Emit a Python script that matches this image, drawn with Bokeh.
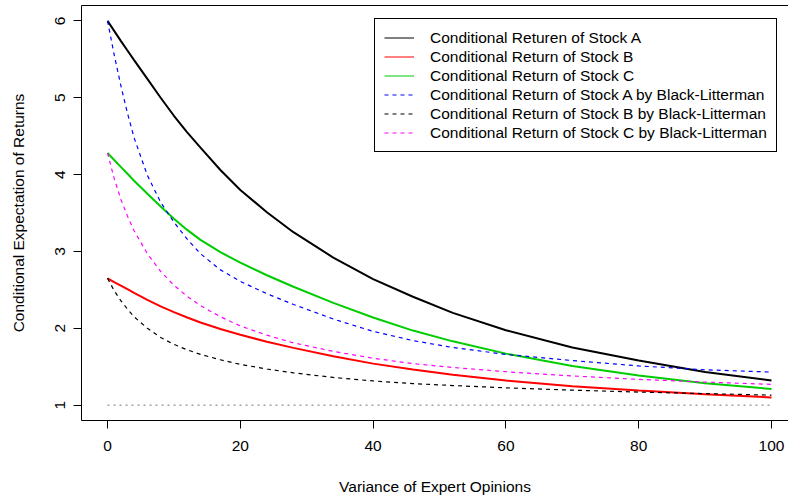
from bokeh.plotting import figure
from bokeh.models import Range1d, FixedTicker, LinearAxis, Legend, LegendItem
from bokeh.embed import file_html
from bokeh.resources import INLINE

# Variance of the expert opinions (x) and the conditional expected returns
variance = [0, 1, 2, 3, 4, 6, 8, 10, 12, 14, 17, 20, 24, 28, 34, 40, 46, 52,
            60, 70, 80, 90, 100]

stock_a = [6.00, 5.87, 5.74, 5.615, 5.49, 5.245, 5.00, 4.765, 4.55, 4.35,
           4.06, 3.80, 3.51, 3.25, 2.92, 2.64, 2.41, 2.20, 1.975, 1.75, 1.58,
           1.43, 1.32]
stock_b = [2.65, 2.60, 2.555, 2.51, 2.46, 2.37, 2.285, 2.21, 2.14, 2.075,
           1.99, 1.915, 1.825, 1.745, 1.635, 1.54, 1.465, 1.395, 1.32, 1.245,
           1.19, 1.14, 1.10]
stock_c = [4.28, 4.19, 4.10, 4.01, 3.92, 3.75, 3.585, 3.425, 3.28, 3.15,
           2.99, 2.855, 2.69, 2.54, 2.33, 2.14, 1.97, 1.83, 1.67, 1.51, 1.385,
           1.285, 1.21]
bl_a = [6.00, 5.56, 5.16, 4.80, 4.48, 3.99, 3.64, 3.38, 3.16, 2.97, 2.76,
        2.61, 2.45, 2.31, 2.12, 1.96, 1.84, 1.75, 1.66, 1.58, 1.51, 1.46,
        1.43]
bl_b = [2.65, 2.49, 2.36, 2.25, 2.15, 2.00, 1.88, 1.79, 1.72, 1.66, 1.59,
        1.53, 1.47, 1.42, 1.36, 1.315, 1.28, 1.255, 1.225, 1.195, 1.17, 1.15,
        1.13]
bl_c = [4.28, 3.95, 3.68, 3.46, 3.27, 2.97, 2.74, 2.56, 2.415, 2.295, 2.15,
        2.03, 1.91, 1.81, 1.70, 1.61, 1.54, 1.49, 1.435, 1.38, 1.335, 1.30,
        1.27]

baseline_x = [0, 100]
baseline_y = [1, 1]

x_ticks = [0, 20, 40, 60, 80, 100]
y_ticks = [1, 2, 3, 4, 5, 6]

labels = [
    "Conditional Returen of Stock A",
    "Conditional Return of Stock B",
    "Conditional Return of Stock C",
    "Conditional Return of Stock A by Black-Litterman",
    "Conditional Return of Stock B by Black-Litterman",
    "Conditional Return of Stock C by Black-Litterman",
]

FONT = "Liberation Sans"
FS = "15.5px"

p = figure(width=788, height=499, output_backend="svg", toolbar_location=None,
           x_range=Range1d(-3.92, 102.56), y_range=Range1d(0.8, 6.2),
           min_border_left=81, min_border_right=0, min_border_top=5,
           min_border_bottom=79, background_fill_color="white",
           border_fill_color="white", outline_line_color=None)
p.xgrid.visible = False
p.ygrid.visible = False

for ax, ticks in ((p.xaxis[0], x_ticks), (p.yaxis[0], y_ticks)):
    ax.ticker = FixedTicker(ticks=ticks)
    ax.minor_tick_line_color = None
    ax.major_tick_in = 0
    ax.major_tick_out = 8
    ax.axis_line_color = "black"
    ax.major_tick_line_color = "black"
    ax.major_label_text_font = FONT
    ax.major_label_text_font_size = FS
    ax.major_label_text_color = "black"
    ax.axis_label_text_font = FONT
    ax.axis_label_text_font_size = FS
    ax.axis_label_text_font_style = "normal"
    ax.axis_label_text_color = "black"

p.xaxis.axis_label = "Variance of Expert Opinions"
p.xaxis.major_label_standoff = 12
p.xaxis.axis_label_standoff = 24
p.yaxis.axis_label = "Conditional Expectation of Returns"
p.yaxis.major_label_orientation = "vertical"
p.yaxis.major_label_standoff = 8
p.yaxis.axis_label_standoff = 26

# top edge of the plot box
top = LinearAxis(ticker=FixedTicker(ticks=[]), major_tick_line_color=None,
                 minor_tick_line_color=None, major_label_text_font_size="0px",
                 axis_line_color="black")
p.add_layout(top, "above")

p.line(baseline_x, baseline_y, line_color="#707070", line_width=1,
       line_dash="2 4")

p.line(variance, stock_a, line_color="black", line_width=2)
p.line(variance, stock_b, line_color="red", line_width=2)
p.line(variance, stock_c, line_color="#00CD00", line_width=2)
p.line(variance, bl_a, line_color="blue", line_width=1.2, line_dash="4 4")
p.line(variance, bl_b, line_color="black", line_width=1.2, line_dash="4 4")
p.line(variance, bl_c, line_color="magenta", line_width=1.2, line_dash="4 4")

# thin legend keys (renderers that draw nothing in the plot area)
nan = float("nan")
styles = [("black", "solid"), ("red", "solid"), ("#00CD00", "solid"),
          ("blue", "4 4"), ("black", "4 4"), ("magenta", "4 4")]
items = []
for lab, (col, dash) in zip(labels, styles):
    r = p.line([nan], [nan], line_color=col, line_width=1, line_dash=dash)
    items.append(LegendItem(label=lab, renderers=[r]))

legend = Legend(items=items, location=(293, 268), margin=0, padding=9,
                spacing=0, label_height=19, glyph_height=19, glyph_width=30,
                label_standoff=16, label_text_font=FONT, label_text_font_size=FS,
                label_text_color="black", border_line_color="black",
                border_line_width=1, border_line_alpha=1,
                background_fill_color="white", background_fill_alpha=1)
p.add_layout(legend)

open("out.html", "w").write(file_html(p, INLINE))
